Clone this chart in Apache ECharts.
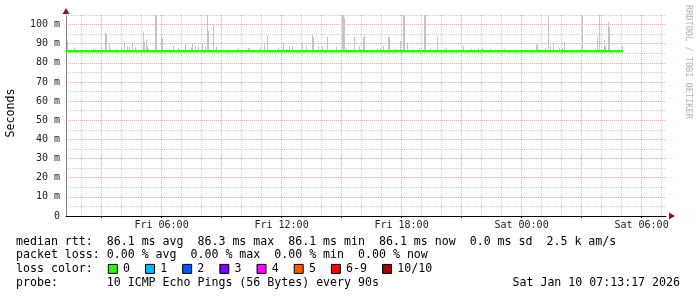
<!DOCTYPE html>
<html><head><meta charset="utf-8">
<script src="https://cdn.jsdelivr.net/npm/echarts@6/dist/echarts.min.js"></script>
<style>html,body{margin:0;padding:0;background:#fff}#c{width:697px;height:297px}</style>
</head><body><div id="c"></div>
<script>
const MONO = '"DejaVu Sans Mono", "Liberation Mono", monospace';

// x values are hours since Fri 00:00
const windowStart = 1.2214;   // Fri 01:13:17
const windowEnd = 31.2214;    // Sat 07:13:17
const tickHours = [6, 12, 18, 24, 30];
const tickLabels = ['Fri 06:00', 'Fri 12:00', 'Fri 18:00', 'Sat 00:00', 'Sat 06:00'];
const yMax = 105;

// median rtt (ms)
const medianHours = [1.2214, 29.07];
const medianValues = [86.1, 86.1];

// smoke (max ping of each step, ms), drawn from the median upwards
const smokeHours = [1.27, 1.62, 2.57, 2.67, 2.97, 3.17, 3.22, 3.37, 3.72, 3.97, 4.12, 4.27, 4.37, 4.52, 4.67,
  5.07, 5.12, 5.22, 5.27, 5.32, 5.67, 5.72, 5.97, 6.02, 6.32, 6.42, 6.57, 6.82, 7.17, 7.47, 7.52, 7.67, 7.82,
  8.02, 8.17, 8.27, 8.32, 8.57, 8.72, 9.72, 9.82, 10.32, 10.37, 10.52, 10.92, 11.12, 11.27, 11.82,
  12.07, 12.22, 12.37, 12.52, 13.02, 13.22, 13.52, 13.57, 13.82, 14.02, 14.27, 14.72, 15.02, 15.07, 15.12,
  15.22, 15.62, 15.87, 16.07, 16.12, 16.77, 16.92, 17.07, 17.32, 17.37, 17.57, 17.72, 17.92, 18.07, 18.12,
  18.27, 18.57, 18.87, 18.97, 19.12, 19.17, 19.42, 19.77, 20.12, 20.22, 20.97, 21.07, 21.47, 21.62, 21.82,
  22.02, 22.42, 22.67, 23.12, 24.72, 24.77, 24.92, 25.17, 25.32, 25.42, 25.57, 25.87, 26.02, 26.12, 26.72,
  27.02, 27.17, 27.67, 27.77, 27.87, 28.02, 28.12, 28.17, 28.32, 28.37, 29.02];
const smokeTops = [91.6, 88.0, 87.5, 87.3, 88.0, 95.6, 94.6, 89.9, 87.4, 88.0, 90.5, 88.8, 88.8, 90.4, 88.0,
  96.3, 91.0, 92.1, 89.0, 87.4, 105, 105, 93.9, 93.0, 87.0, 87.0, 88.7, 88.0, 89.9, 88.0, 90.4, 89.0, 88.7,
  89.9, 88.7, 105, 96.8, 99.8, 88.7, 87.0, 87.8, 87.8, 87.8, 87.3, 88.0, 89.9, 94.3, 88.0,
  90.4, 87.3, 89.0, 89.0, 90.7, 88.7, 94.5, 93.5, 88.7, 88.7, 93.6, 88.7, 105, 105, 103.5,
  88.0, 93.6, 88.7, 93.0, 94.0, 87.8, 87.8, 89.0, 93.6, 93.6, 87.3, 87.3, 91.6, 105, 105,
  90.4, 87.3, 87.8, 87.8, 105, 105, 87.8, 93.6, 87.3, 87.8, 87.3, 89.0, 87.3, 87.3, 87.8,
  87.8, 87.5, 87.0, 87.5, 89.6, 89.6, 87.3, 87.8, 105, 89.0, 90.0, 87.5, 87.8, 90.7, 87.0,
  105, 87.0, 87.3, 93.6, 105, 87.0, 92.0, 88.7, 101.2, 98.6, 89.0];

const lineRtt = 'median rtt:  86.1 ms avg  86.3 ms max  86.1 ms min  86.1 ms now  0.0 ms sd  2.5 k am/s';
const lineLoss = 'packet loss: 0.00 % avg  0.00 % max  0.00 % min  0.00 % now';
const lineColorTitle = 'loss color:';
const lossLabels = ['0', '1', '2', '3', '4', '5', '6-9', '10/10'];
const lossColors = ['#26ff00', '#00b8ff', '#0059ff', '#7e00ff', '#ff00ff', '#ff5500', '#ff0000', '#a10000'];
const lineProbe = 'probe:       10 ICMP Echo Pings (56 Bytes) every 90s';
const stamp = 'Sat Jan 10 07:13:17 2026';
const credit = 'RRDTOOL / TOBI OETIKER';
const yName = 'Seconds';

const GRAY = '#d0d0d0';
const RED = '#ecb0b0';
const DOT = [1, 1];

const chart = echarts.init(document.getElementById('c'), null, {renderer: 'canvas'});

// vertical grid lines every hour, stronger every 3 hours
const vLines = [];
for (let h = Math.ceil(windowStart); h <= Math.floor(windowEnd); h++) {
  vLines.push({xAxis: h, lineStyle: {color: h % 3 === 0 ? RED : GRAY, type: DOT, width: 1}});
}
vLines.push({yAxis: yMax, lineStyle: {color: GRAY, type: DOT, width: 1}});
const majorTicks = [];
for (let h = 3; h <= windowEnd; h += 3) majorTicks.push(h);

const splitColors = [];
for (let v = 0; v <= 100; v += 10) splitColors.push(RED);
splitColors.push('rgba(0,0,0,0)');

// footer graphics
const graphics = [];
const fontMain = '11.6px ' + MONO;
const rowY = [241.7, 255.2, 268.9, 282.7];
function txt(x, y, s, align) {
  graphics.push({type: 'text', x: x, y: y, silent: true,
    style: {text: s, font: fontMain, fill: '#000', textAlign: align || 'left', textVerticalAlign: 'middle', align: align || 'left', verticalAlign: 'middle'}});
}
txt(16, rowY[0], lineRtt);
txt(16, rowY[1], lineLoss);
txt(16, rowY[2], lineColorTitle);
txt(16, rowY[3], lineProbe);
txt(680, rowY[3], stamp, 'right');
let lx = 108.3;
const cw = 6.98;
lossLabels.forEach((lab, i) => {
  graphics.push({type: 'rect', x: lx, y: rowY[2] - 4.5, silent: true,
    shape: {x: 0, y: 0, width: 9, height: 9}, style: {fill: lossColors[i], stroke: '#000', lineWidth: 1}});
  const tx = lx + 14.7;
  txt(tx, rowY[2], lab);
  lx = tx + lab.length * cw + 15.5;
});
graphics.push({type: 'text', x: 688.5, y: 5, rotation: -Math.PI / 2, silent: true,
  style: {text: credit, font: '8.6px ' + MONO, fill: '#b4b4b4', textAlign: 'left', textVerticalAlign: 'middle', align: 'left', verticalAlign: 'middle'}});
graphics.push({type: 'text', x: 11, y: 113, rotation: Math.PI / 2, silent: true,
  style: {text: yName, font: fontMain, fill: '#000', textAlign: 'center', textVerticalAlign: 'middle', align: 'center', verticalAlign: 'middle'}});
// axis arrows
graphics.push({type: 'polygon', silent: true, shape: {points: [[62.5, 14], [69.5, 14], [66, 8]]}, style: {fill: '#8b1a1a'}});
graphics.push({type: 'polygon', silent: true, shape: {points: [[669, 212.5], [669, 219.5], [675, 216]]}, style: {fill: '#8b1a1a'}});

chart.setOption({
  animation: false,
  backgroundColor: '#fff',
  grid: {left: 66, right: 31, top: 15, bottom: 81, containLabel: false},
  xAxis: {
    type: 'value', min: windowStart, max: windowEnd,
    axisLine: {show: true, lineStyle: {color: '#000', width: 1}},
    axisTick: {show: true, customValues: majorTicks, length: 2, lineStyle: {color: '#000'}},
    axisLabel: {show: true, customValues: tickHours, margin: 4, color: '#222',
      fontFamily: MONO, fontSize: 10,
      formatter: v => { const i = tickHours.indexOf(Math.round(v)); return i >= 0 ? tickLabels[i] : ''; }},
    splitLine: {show: false}
  },
  yAxis: {
    type: 'value', min: 0, max: yMax, interval: 10,
    axisLine: {show: true, lineStyle: {color: '#808080', width: 1}},
    axisTick: {show: false},
    axisLabel: {show: true, margin: 6, color: '#222', fontFamily: MONO, fontSize: 10, showMaxLabel: false,
      formatter: v => (v > 100 ? '' : v === 0 ? '0' : v + ' m')},
    splitLine: {show: true, lineStyle: {color: splitColors, type: DOT, width: 1}},
    minorTick: {show: false, splitNumber: 2},
    minorSplitLine: {show: true, lineStyle: {color: GRAY, type: DOT, width: 1}}
  },
  graphic: graphics,
  series: [
    {
      type: 'line', z: 1, silent: true, showSymbol: false,
      data: medianHours.map((h, i) => [h, medianValues[i]]),
      lineStyle: {opacity: 0},
      markLine: {silent: true, symbol: ['none', 'none'], label: {show: false}, animation: false, data: vLines}
    },
    {
      type: 'custom', z: 2, silent: true,
      data: smokeHours.map((h, i) => [h, smokeTops[i]]),
      renderItem: (params, api) => {
        const top = api.coord([api.value(0), api.value(1)]);
        const base = api.coord([api.value(0), medianValues[0]]);
        const x = Math.round(top[0]);
        return {type: 'rect', shape: {x: x, y: top[1], width: 1, height: base[1] - top[1]},
          style: {fill: '#c4c4c4'}};
      }
    },
    {
      type: 'line', z: 3, silent: true, showSymbol: false,
      data: medianHours.map((h, i) => [h, medianValues[i]]),
      lineStyle: {color: '#26ff00', width: 2.5}
    }
  ]
});
</script></body></html>
